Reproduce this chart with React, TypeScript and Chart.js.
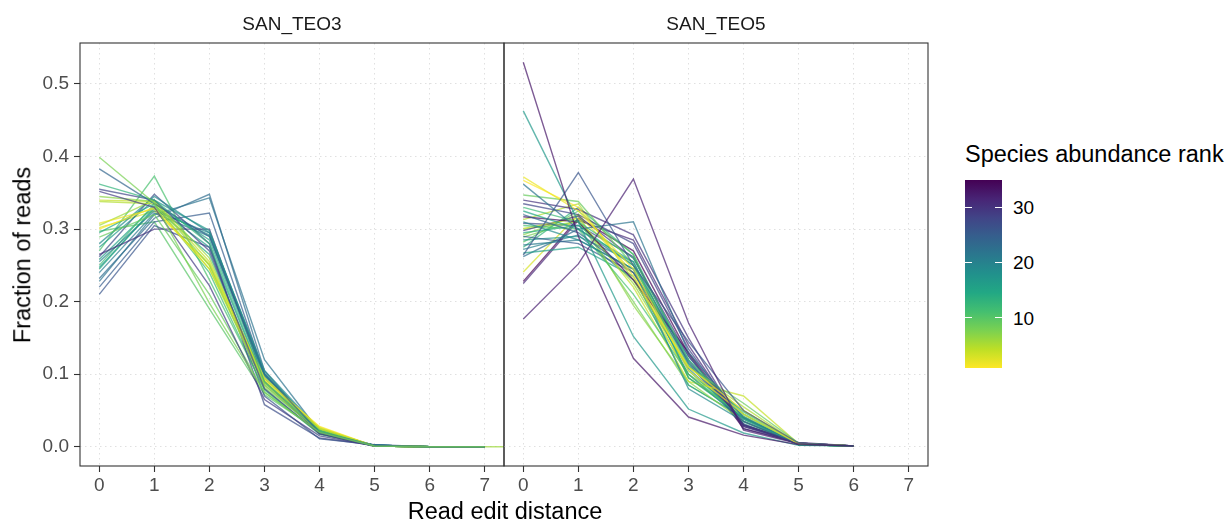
import React, { useEffect, useRef } from 'react';
import { Chart, registerables } from 'chart.js';

Chart.register(...registerables);

// ---------------- data ----------------
const EDIT_DISTANCE = [0, 1, 2, 3, 4, 5, 6, 7, 8];
const X_TICKS = [0, 1, 2, 3, 4, 5, 6, 7];
const Y_TICKS = [0, 0.1, 0.2, 0.3, 0.4, 0.5];
const LEGEND_TICKS = [10, 20, 30];
const RANK_MIN = 1;
const RANK_MAX = 35;
const PANEL_NAMES = ['SAN_TEO3', 'SAN_TEO5'];

const teo3Ranks = [8, 24, 13, 28, 29, 7, 4, 5, 2, 6, 1, 15, 9, 19, 17, 30, 27, 20, 11, 14, 21, 23, 22, 25, 26, 10, 12, 16, 18, 3];
const teo3Fractions = [
  [0.399, 0.336, 0.198, 0.075, 0.020, 0.001, 0, 0],
  [0.383, 0.335, 0.290, 0.100, 0.020, 0.002, 0, 0],
  [0.362, 0.340, 0.280, 0.090, 0.022, 0.001, 0, 0],
  [0.355, 0.340, 0.270, 0.080, 0.018, 0.001, 0, 0],
  [0.352, 0.330, 0.222, 0.065, 0.015, 0.001, 0, 0],
  [0.345, 0.338, 0.250, 0.082, 0.022, 0.001, 0, 0],
  [0.340, 0.338, 0.255, 0.090, 0.025, 0.001, 0, 0],
  [0.338, 0.335, 0.245, 0.085, 0.024, 0.001, 0, 0],
  [0.308, 0.328, 0.250, 0.095, 0.027, 0.001, 0, 0],
  [0.305, 0.340, 0.260, 0.088, 0.026, 0.001, 0, 0, 0],
  [0.300, 0.330, 0.245, 0.092, 0.028, 0.001, 0, 0],
  [0.295, 0.335, 0.285, 0.095, 0.022, 0.001, 0, 0],
  [0.289, 0.320, 0.210, 0.075, 0.020, 0.001, 0, 0],
  [0.280, 0.345, 0.295, 0.105, 0.024, 0.002, 0, 0],
  [0.275, 0.340, 0.298, 0.100, 0.023, 0.001, 0, 0],
  [0.265, 0.300, 0.300, 0.090, 0.018, 0.001, 0, 0],
  [0.262, 0.348, 0.280, 0.058, 0.012, 0.002, 0, 0],
  [0.255, 0.325, 0.295, 0.102, 0.022, 0.002, 0, 0],
  [0.270, 0.373, 0.230, 0.080, 0.018, 0.001, 0, 0],
  [0.245, 0.330, 0.265, 0.085, 0.020, 0.001, 0, 0],
  [0.240, 0.322, 0.290, 0.098, 0.022, 0.002, 0, 0],
  [0.232, 0.315, 0.348, 0.105, 0.018, 0.002, 0, 0],
  [0.228, 0.320, 0.343, 0.120, 0.021, 0.002, 0, 0],
  [0.220, 0.310, 0.322, 0.100, 0.020, 0.002, 0, 0],
  [0.210, 0.305, 0.275, 0.070, 0.011, 0.003, 0, 0],
  [0.297, 0.310, 0.190, 0.072, 0.021, 0.001, 0, 0],
  [0.250, 0.335, 0.240, 0.078, 0.017, 0.001, 0, 0],
  [0.258, 0.332, 0.275, 0.088, 0.020, 0.001, 0, 0],
  [0.247, 0.328, 0.292, 0.098, 0.021, 0.002, 0, 0],
  [0.302, 0.325, 0.252, 0.093, 0.026, 0.001, 0, 0],
];

const teo5Ranks = [33, 17, 32, 26, 2, 1, 22, 9, 30, 28, 12, 15, 24, 34, 5, 19, 11, 4, 29, 14, 7, 25, 18, 10, 21, 13, 16, 23, 3, 35, 31, 6, 8, 20, 27];
const teo5Fractions = [
  [0.530, 0.290, 0.122, 0.041, 0.016, 0.003, 0.001],
  [0.463, 0.310, 0.152, 0.052, 0.019, 0.002, 0.001],
  [0.176, 0.252, 0.369, 0.171, 0.023, 0.004, 0.001],
  [0.264, 0.378, 0.250, 0.145, 0.050, 0.005, 0.001],
  [0.372, 0.325, 0.245, 0.105, 0.045, 0.004, 0.001],
  [0.367, 0.330, 0.235, 0.110, 0.050, 0.004, 0.001],
  [0.362, 0.300, 0.310, 0.130, 0.040, 0.004, 0.001],
  [0.347, 0.338, 0.250, 0.110, 0.060, 0.005, 0.001],
  [0.340, 0.327, 0.292, 0.150, 0.025, 0.005, 0.001],
  [0.335, 0.320, 0.280, 0.135, 0.030, 0.005, 0.001],
  [0.330, 0.310, 0.260, 0.120, 0.045, 0.004, 0.001],
  [0.325, 0.300, 0.255, 0.095, 0.040, 0.003, 0.001],
  [0.320, 0.295, 0.240, 0.125, 0.035, 0.004, 0.001],
  [0.317, 0.310, 0.230, 0.130, 0.030, 0.005, 0.001],
  [0.313, 0.335, 0.230, 0.110, 0.055, 0.004, 0.001],
  [0.310, 0.285, 0.245, 0.080, 0.035, 0.003, 0.001],
  [0.305, 0.300, 0.210, 0.100, 0.040, 0.003, 0.001],
  [0.301, 0.315, 0.220, 0.090, 0.070, 0.004, 0.001],
  [0.298, 0.318, 0.260, 0.125, 0.030, 0.005, 0.001],
  [0.295, 0.305, 0.250, 0.105, 0.038, 0.004, 0.001],
  [0.292, 0.320, 0.195, 0.090, 0.035, 0.003, 0.001],
  [0.290, 0.280, 0.240, 0.118, 0.030, 0.004, 0.001],
  [0.285, 0.290, 0.255, 0.112, 0.042, 0.003, 0.001],
  [0.282, 0.325, 0.265, 0.095, 0.045, 0.003, 0.001],
  [0.278, 0.285, 0.245, 0.100, 0.035, 0.004, 0.001],
  [0.275, 0.330, 0.265, 0.115, 0.048, 0.004, 0.001],
  [0.267, 0.275, 0.235, 0.085, 0.040, 0.003, 0.001],
  [0.262, 0.300, 0.250, 0.120, 0.032, 0.004, 0.001],
  [0.241, 0.320, 0.240, 0.095, 0.042, 0.003, 0.001],
  [0.228, 0.315, 0.270, 0.128, 0.025, 0.005, 0.001],
  [0.225, 0.312, 0.285, 0.140, 0.028, 0.006, 0.001],
  [0.300, 0.310, 0.225, 0.100, 0.050, 0.004, 0.001],
  [0.289, 0.312, 0.200, 0.085, 0.040, 0.003, 0.001],
  [0.272, 0.292, 0.230, 0.108, 0.038, 0.003, 0.001],
  [0.308, 0.305, 0.262, 0.115, 0.028, 0.004, 0.001],
];

// ---------------- styling helpers ----------------
const FONT = "'Liberation Sans', Arial, Helvetica, sans-serif";
const VIRIDIS = ['#440154', '#482475', '#414487', '#355f8d', '#2a788e', '#21918c', '#22a884', '#44bf70', '#7ad151', '#bddf26', '#fde725'];

function hexToRgb(h: string) {
  return [parseInt(h.slice(1, 3), 16), parseInt(h.slice(3, 5), 16), parseInt(h.slice(5, 7), 16)];
}

function viridis(t: number, alpha: number) {
  const c = Math.max(0, Math.min(1, t)) * (VIRIDIS.length - 1);
  const i = Math.min(Math.floor(c), VIRIDIS.length - 2);
  const f = c - i;
  const a = hexToRgb(VIRIDIS[i]);
  const b = hexToRgb(VIRIDIS[i + 1]);
  const m = a.map((v, k) => Math.round(v + (b[k] - v) * f));
  return `rgba(${m[0]},${m[1]},${m[2]},${alpha})`;
}

function rankColor(rank: number) {
  return viridis(1 - (rank - RANK_MIN) / (RANK_MAX - RANK_MIN), 0.7);
}

function rankToLegendY(rank: number) {
  return 180 + ((RANK_MAX - rank) / (RANK_MAX - RANK_MIN)) * 187.5;
}

const panelBorder = {
  id: 'panelBorder',
  afterDraw(chart: any) {
    const { ctx, chartArea: a } = chart;
    ctx.save();
    ctx.strokeStyle = '#333333';
    ctx.lineWidth = 1.1;
    ctx.strokeRect(a.left, a.top, a.right - a.left, a.bottom - a.top);
    ctx.restore();
  },
};

function buildConfig(ranks: number[], fractions: number[][], showY: boolean): any {
  const datasets = fractions.map((row, i) => ({
    label: `rank ${ranks[i]}`,
    data: row.map((v, j) => ({ x: EDIT_DISTANCE[j], y: v })),
    borderColor: rankColor(ranks[i]),
    backgroundColor: rankColor(ranks[i]),
    borderWidth: 1.4,
    pointRadius: 0,
    tension: 0,
    fill: false,
  }));
  const gridCommon = {
    color: '#e0e0e0',
    lineWidth: 1,
    tickColor: '#333333',
    tickWidth: 1.1,
    tickLength: 6,
    tickBorderDash: [],
  };
  return {
    type: 'line',
    data: { datasets },
    plugins: [panelBorder],
    options: {
      responsive: false,
      animation: false,
      events: [],
      layout: { padding: { top: 43, bottom: 21, left: showY ? 0 : 10, right: 16 } },
      plugins: { legend: { display: false }, tooltip: { enabled: false } },
      scales: {
        x: {
          type: 'linear',
          min: -0.35,
          max: 7.35,
          afterBuildTicks: (s: any) => {
            s.ticks = X_TICKS.map((v) => ({ value: v }));
          },
          afterFit: (s: any) => {
            s.height = 40;
          },
          grid: { ...gridCommon, drawTicks: true },
          border: { display: false, dash: [1.5, 3.5] },
          ticks: {
            color: '#4d4d4d',
            font: { family: FONT, size: 19 },
            padding: 2,
            maxRotation: 0,
            autoSkip: false,
            callback: (v: any) => String(v),
          },
        },
        y: {
          type: 'linear',
          min: -0.0265,
          max: 0.5565,
          afterBuildTicks: (s: any) => {
            s.ticks = Y_TICKS.map((v) => ({ value: v }));
          },
          afterFit: (s: any) => {
            s.width = showY ? 80 : 0;
          },
          grid: { ...gridCommon, drawTicks: showY },
          border: { display: false, dash: [1.5, 3.5] },
          ticks: {
            display: showY,
            color: '#4d4d4d',
            font: { family: FONT, size: 19 },
            padding: 5,
            callback: (v: any) => Number(v).toFixed(1),
          },
        },
      },
    },
  };
}

function Panel(props: { ranks: number[]; fractions: number[][]; showY: boolean; left: number; width: number }) {
  const ref = useRef<HTMLCanvasElement | null>(null);
  useEffect(() => {
    if (!ref.current) return;
    const chart = new Chart(ref.current, buildConfig(props.ranks, props.fractions, props.showY));
    return () => chart.destroy();
  }, []);
  return (
    <canvas
      ref={ref}
      width={props.width}
      height={527}
      style={{ position: 'absolute', left: props.left, top: 0, width: props.width, height: 527 }}
    />
  );
}

const textBase: React.CSSProperties = {
  position: 'absolute',
  fontFamily: FONT,
  whiteSpace: 'nowrap',
};

export default function App() {
  const gradient = `linear-gradient(to bottom, ${VIRIDIS.map((c, i) => `${c} ${(i / (VIRIDIS.length - 1)) * 100}%`).join(', ')})`;
  return (
    <div style={{ position: 'absolute', left: 0, top: 0, width: 1231, height: 527, background: '#ffffff', overflow: 'hidden' }}>
      <Panel ranks={teo3Ranks} fractions={teo3Fractions} showY={true} left={0} width={520} />
      <Panel ranks={teo5Ranks} fractions={teo5Fractions} showY={false} left={494} width={450} />

      {/* strip labels */}
      <div style={{ ...textBase, left: 292, top: 14, fontSize: 19, lineHeight: '19px', color: '#1a1a1a', transform: 'translateX(-50%)' }}>
        {PANEL_NAMES[0]}
      </div>
      <div style={{ ...textBase, left: 716, top: 14, fontSize: 19, lineHeight: '19px', color: '#1a1a1a', transform: 'translateX(-50%)' }}>
        {PANEL_NAMES[1]}
      </div>

      {/* axis titles */}
      <div style={{ ...textBase, left: 505, top: 500, fontSize: 23.5, lineHeight: '23.5px', color: '#000', transform: 'translateX(-50%)' }}>
        Read edit distance
      </div>
      <div
        style={{
          ...textBase,
          left: 22.5,
          top: 254.5,
          fontSize: 23.5,
          lineHeight: '23.5px',
          color: '#000',
          transform: 'translate(-50%, -50%) rotate(-90deg)',
        }}
      >
        Fraction of reads
      </div>

      {/* legend */}
      <div style={{ ...textBase, left: 965, top: 143, fontSize: 23.5, lineHeight: '23.5px', color: '#000' }}>
        Species abundance rank
      </div>
      <div style={{ position: 'absolute', left: 964.5, top: 180, width: 37.5, height: 187.5, background: gradient }} />
      {LEGEND_TICKS.map((t) => (
        <React.Fragment key={t}>
          <div style={{ position: 'absolute', left: 964.5, top: rankToLegendY(t) - 0.5, width: 7.5, height: 1, background: '#ffffff' }} />
          <div style={{ position: 'absolute', left: 994.5, top: rankToLegendY(t) - 0.5, width: 7.5, height: 1, background: '#ffffff' }} />
          <div style={{ ...textBase, left: 1013, top: rankToLegendY(t) - 9.3, fontSize: 19, lineHeight: '19px', color: '#000' }}>
            {t}
          </div>
        </React.Fragment>
      ))}
    </div>
  );
}
